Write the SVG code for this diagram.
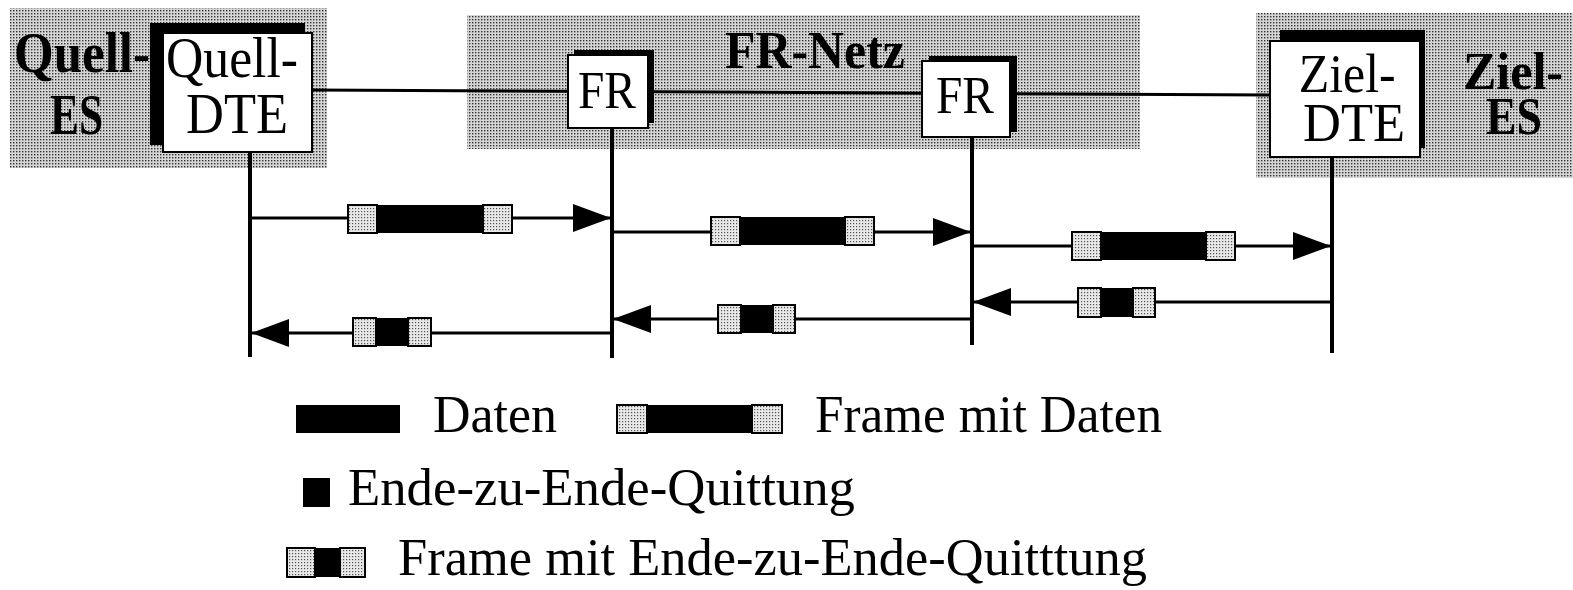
<svg xmlns="http://www.w3.org/2000/svg" width="1573" height="590" viewBox="0 0 1573 590">
  <style>
    .t { font-family: "Liberation Serif", "Times New Roman", serif; fill: #000; }
    .b { font-weight: bold; }
    .lbl { font-size: 52px; }
    .big { font-size: 56px; }
    .life { stroke: #000; stroke-width: 4; fill: none; }
    .msg { stroke: #000; stroke-width: 3; fill: none; marker-end: url(#arr); }
    .box { fill: #fff; stroke: #000; stroke-width: 2; }
    .shadow { fill: #000; }
    .zone { fill: url(#screen); }
    .hdr { fill: url(#dots); stroke: #000; stroke-width: 2; }
    .body { fill: #000; }
  </style>
  <defs>
    <!-- halftone screen for the system areas -->
    <pattern id="screen" width="3" height="3" patternUnits="userSpaceOnUse">
      <rect width="3" height="3" fill="#d6d6d6"/>
      <rect x="1" y="1" width="1.4" height="1.4" fill="#333"/>
    </pattern>
    <!-- lighter dotted fill for frame header/trailer -->
    <pattern id="dots" width="3" height="3" patternUnits="userSpaceOnUse">
      <rect width="3" height="3" fill="#e8e8e8"/>
      <rect x="1" y="1" width="1.2" height="1.2" fill="#555"/>
    </pattern>
    <marker id="arr" viewBox="0 0 38 28" refX="38" refY="14" markerWidth="38" markerHeight="28" markerUnits="userSpaceOnUse" orient="auto">
      <path d="M0,0 L38,14 L0,28 Z" fill="#000"/>
    </marker>
  </defs>

  <!-- shaded system areas -->
  <rect class="zone" x="10" y="8" width="317" height="160"/>
  <rect class="zone" x="467" y="15" width="673" height="134"/>
  <rect class="zone" x="1256" y="13" width="317" height="165"/>

  <!-- area captions -->
  <text class="t b big">
    <tspan x="14" y="72" textLength="136" lengthAdjust="spacingAndGlyphs">Quell-</tspan>
    <tspan x="50" y="134" textLength="53" lengthAdjust="spacingAndGlyphs">ES</tspan>
  </text>
  <text class="t b" x="725" y="68" font-size="52" textLength="180" lengthAdjust="spacingAndGlyphs">FR-Netz</text>
  <text class="t b" font-size="52">
    <tspan x="1463" y="89" textLength="100" lengthAdjust="spacingAndGlyphs">Ziel-</tspan>
    <tspan x="1486" y="134" textLength="56" lengthAdjust="spacingAndGlyphs">ES</tspan>
  </text>

  <g id="connectors">
    <!-- trunk line between the end systems -->
    <line x1="312" y1="90" x2="1270" y2="95" stroke="#000" stroke-width="3"/>

    <!-- lifelines -->
    <line class="life" x1="250" y1="152" x2="250" y2="357"/>
    <line class="life" x1="612" y1="128" x2="612" y2="358"/>
    <line class="life" x1="972" y1="137" x2="972" y2="345"/>
    <line class="life" x1="1332" y1="157" x2="1332" y2="353"/>

    <!-- data frames towards the destination -->
    <line class="msg" x1="250" y1="218" x2="611" y2="218"/>
    <line class="msg" x1="612" y1="232" x2="971" y2="232"/>
    <line class="msg" x1="972" y1="246" x2="1331" y2="246"/>

    <!-- end-to-end acknowledgements back to the source -->
    <line class="msg" x1="1332" y1="302" x2="973" y2="302"/>
    <line class="msg" x1="972" y1="319" x2="613" y2="319"/>
    <line class="msg" x1="612" y1="333" x2="251" y2="333"/>
  </g>

  <!-- frames carried on the messages -->
  <g id="frames">
    <g>
      <rect class="body" x="348" y="205" width="164" height="28"/>
      <rect class="hdr" x="348" y="205" width="29" height="28"/>
      <rect class="hdr" x="483" y="205" width="29" height="28"/>
    </g>
    <g>
      <rect class="body" x="711" y="217" width="163" height="28"/>
      <rect class="hdr" x="711" y="217" width="29" height="28"/>
      <rect class="hdr" x="845" y="217" width="29" height="28"/>
    </g>
    <g>
      <rect class="body" x="1072" y="232" width="163" height="28"/>
      <rect class="hdr" x="1072" y="232" width="29" height="28"/>
      <rect class="hdr" x="1206" y="232" width="29" height="28"/>
    </g>
    <g>
      <rect class="body" x="1078" y="288" width="77" height="29"/>
      <rect class="hdr" x="1078" y="288" width="23" height="29"/>
      <rect class="hdr" x="1133" y="288" width="22" height="29"/>
    </g>
    <g>
      <rect class="body" x="718" y="305" width="77" height="28"/>
      <rect class="hdr" x="718" y="305" width="23" height="28"/>
      <rect class="hdr" x="773" y="305" width="22" height="28"/>
    </g>
    <g>
      <rect class="body" x="353" y="318" width="78" height="28"/>
      <rect class="hdr" x="353" y="318" width="23" height="28"/>
      <rect class="hdr" x="408" y="318" width="23" height="28"/>
    </g>
  </g>

  <!-- nodes -->
  <g id="quell-dte">
    <rect class="shadow" x="150" y="23" width="155" height="122"/>
    <rect class="box" x="163" y="33" width="149" height="119"/>
    <text class="t big" text-anchor="middle">
      <tspan x="239" y="77" textLength="132" lengthAdjust="spacingAndGlyphs">Quell-</tspan>
      <tspan x="237" y="133" textLength="102" lengthAdjust="spacingAndGlyphs">DTE</tspan>
    </text>
  </g>
  <g id="fr1">
    <rect class="shadow" x="574" y="50" width="80" height="73"/>
    <rect class="box" x="568" y="55" width="80" height="73"/>
    <text class="t" x="607" y="108" font-size="53" text-anchor="middle" textLength="58" lengthAdjust="spacingAndGlyphs">FR</text>
  </g>
  <g id="fr2">
    <rect class="shadow" x="929" y="56" width="88" height="76"/>
    <rect class="box" x="922" y="61" width="88" height="76"/>
    <text class="t" x="965" y="113" font-size="53" text-anchor="middle" textLength="58" lengthAdjust="spacingAndGlyphs">FR</text>
  </g>
  <g id="ziel-dte">
    <rect class="shadow" x="1280" y="30" width="145" height="118"/>
    <rect class="box" x="1270" y="41" width="150" height="116"/>
    <text class="t" font-size="54" text-anchor="middle">
      <tspan x="1354" y="92" textLength="97" lengthAdjust="spacingAndGlyphs">Ziel-</tspan>
      <tspan x="1354" y="141" textLength="102" lengthAdjust="spacingAndGlyphs">DTE</tspan>
    </text>
  </g>

  <!-- legend -->
  <g id="legend">
    <rect class="body" x="296" y="405" width="104" height="28"/>
    <text class="t lbl" x="433" y="432" textLength="124" lengthAdjust="spacingAndGlyphs">Daten</text>

    <rect class="body" x="617" y="405" width="165" height="28"/>
    <rect class="hdr" x="617" y="405" width="30" height="28"/>
    <rect class="hdr" x="752" y="405" width="30" height="28"/>
    <text class="t lbl" x="815" y="432" textLength="347" lengthAdjust="spacingAndGlyphs">Frame mit Daten</text>

    <rect class="body" x="303" y="478" width="27" height="29"/>
    <text class="t lbl" x="348" y="505" textLength="507" lengthAdjust="spacingAndGlyphs">Ende-zu-Ende-Quittung</text>

    <rect class="body" x="287" y="548" width="78" height="29"/>
    <rect class="hdr" x="287" y="548" width="28" height="29"/>
    <rect class="hdr" x="340" y="548" width="25" height="29"/>
    <text class="t lbl" x="398" y="575" textLength="749" lengthAdjust="spacingAndGlyphs">Frame mit Ende-zu-Ende-Quitttung</text>
  </g>
</svg>
